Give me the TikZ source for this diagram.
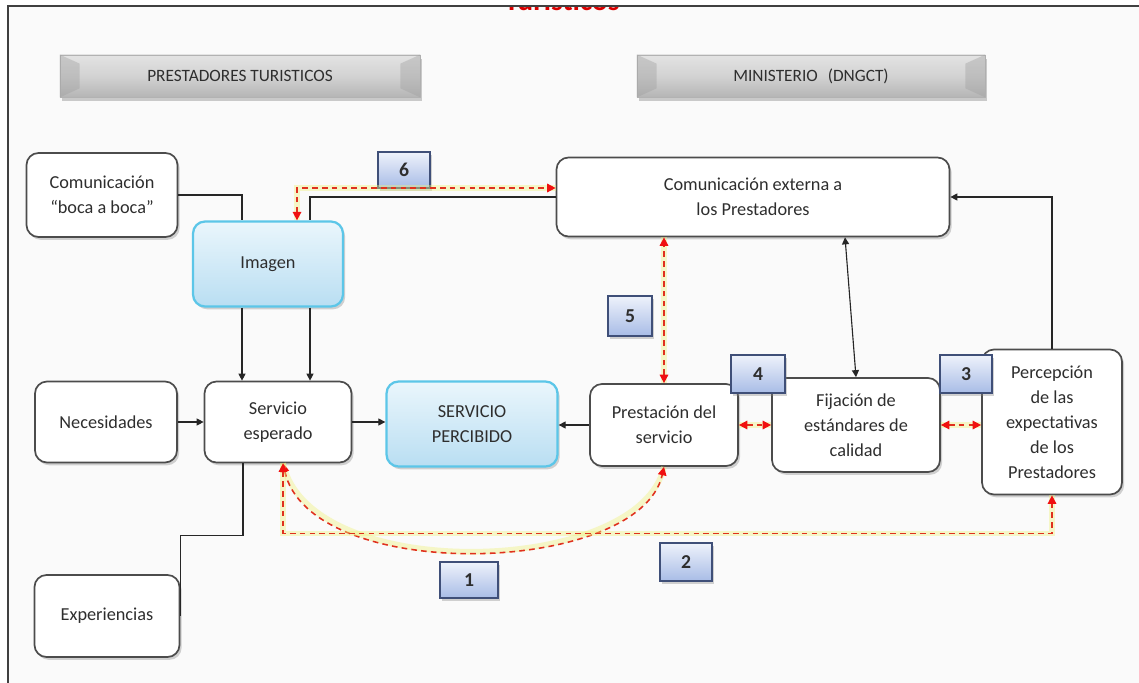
\documentclass[tikz,border=0pt]{standalone}
\usepackage{fontspec}
\setmainfont{Carlito}
\usetikzlibrary{arrows.meta,shadows,calc}
\definecolor{txt}{HTML}{2E2E2E}
\definecolor{bgc}{HTML}{FAFAFA}
\definecolor{cyanB}{HTML}{5CC6E8}
\definecolor{blueT}{HTML}{EAF6FC}
\definecolor{blueB}{HTML}{B9DEF2}
\definecolor{badgeB}{HTML}{3F4F78}
\definecolor{badgeT}{HTML}{EEF2FB}
\definecolor{badgeM}{HTML}{A8BCE6}
\definecolor{redD}{HTML}{E0301E}
\definecolor{redA}{HTML}{F01010}
\definecolor{glow}{HTML}{EEF07A}
\tikzset{
  sz/.style 2 args={minimum width=#1*0.025cm, minimum height=#2*0.025cm},
  box/.style={draw=gray!60!black, line width=1.2pt, rounded corners=0.3cm, fill=white,
    align=center, text=txt, font=\fontsize{13}{17.8}\selectfont, inner sep=2pt,
    drop shadow={opacity=0.35, shadow xshift=1.5pt, shadow yshift=-2pt}},
  bluebox/.style={box, draw=cyanB, line width=1.6pt, top color=blueT, bottom color=blueB},
  badge/.style={draw=badgeB, line width=0.9pt, top color=badgeT, bottom color=badgeM,
    font=\fontsize{14}{16}\bfseries\selectfont, text=txt, inner sep=1pt,
    drop shadow={opacity=0.35, shadow xshift=1.5pt, shadow yshift=-2pt}},
  hdr/.style={draw=gray!60, line width=0.6pt, top color=gray!22, bottom color=gray!58,
    middle color=gray!35, font=\fontsize{12.3}{15}\selectfont, text=txt,
    drop shadow={opacity=0.4, shadow xshift=1.5pt, shadow yshift=-2.5pt}},
  blk/.style={draw=black!85, line width=0.8pt},
  blkarr/.style={blk, -{Triangle[length=5pt,width=5pt]}},
  rd/.style={draw=redD, line width=1.1pt, dash pattern=on 4pt off 3pt,
    {Triangle[length=6pt,width=6pt,color=redA]}-{Triangle[length=6pt,width=6pt,color=redA]},
    preaction={draw=glow, line width=4pt, opacity=0.4, solid, -}},
}
\begin{document}
\begin{tikzpicture}[x=0.025cm,y=-0.025cm]
\useasboundingbox (0,0) rectangle (1139,683);
\fill[white] (0,0) rectangle (1139,683);
\fill[bgc] (8,6) rectangle (1139,683);
% cropped title
\begin{scope}
\clip (8,7) rectangle (1139,40);
\node[anchor=base, text=red!85!black, font=\fontsize{21}{24}\bfseries\selectfont] (title) at (562,11) {Turísticos};
\end{scope}
\draw[gray!50!black, line width=1.2pt] (8,683) -- (8,6) -- (1139,6);

% headers
\node[hdr, sz={360}{42}] (hL) at (240,76) {PRESTADORES TURISTICOS};
\node[hdr, sz={348}{42}] (hR) at (811,76) {MINISTERIO\hspace{0.35em} (DNGCT)};
\foreach \h in {hL,hR}{
  \fill[gray!75, opacity=0.4] (\h.north west) -- ++(20,9) -- ($(\h.south west)+(20,-9)$) -- (\h.south west) -- cycle;
  \fill[gray!75, opacity=0.4] (\h.north east) -- ++(-20,9) -- ($(\h.south east)+(-20,-9)$) -- (\h.south east) -- cycle;
}

% boxes
\node[box, sz={151}{84}] (boca) at (102,195) {Comunicación\\“boca a boca”};
\node[bluebox, sz={150}{85}] (imagen) at (268,264) {Imagen};
\node[box, sz={393}{79}] (ext) at (753,197) {Comunicación externa a\\los Prestadores};
\node[box, sz={142}{81}] (nec) at (106,422) {Necesidades};
\node[box, sz={147}{81}] (esp) at (278,422) {Servicio\\esperado};
\node[bluebox, sz={171}{85}] (perc) at (472,424) {SERVICIO\\PERCIBIDO};
\node[box, sz={148}{82}] (prest) at (664,425) {Prestación del\\servicio};
\node[box, sz={168}{94}] (fij) at (856,425) {Fijación de\\estándares de\\calidad};
\node[box, sz={140}{145}] (pexp) at (1052,422) {Percepción\\de las\\expectativas\\de los\\Prestadores};
\node[box, sz={145}{82}] (exper) at (107,616) {Experiencias};

% badges
\node[badge, sz={52}{36}] (b6) at (404,170) {6};
\node[badge, sz={44}{40}] (b5) at (630,316) {5};
\node[badge, sz={54}{38}] (b4) at (758,374) {4};
\node[badge, sz={52}{38}] (b3) at (966,374) {3};
\node[badge, sz={58}{36}] (b1) at (469,580) {1};
\node[badge, sz={52}{38}] (b2) at (686,562) {2};

% black connectors
\draw[blk] (boca.east) -| ([xshift=-0.65cm]imagen.north);
\draw[blkarr] ([xshift=-0.65cm]imagen.south) -- ([xshift=-0.65cm]imagen.south |- esp.north);
\draw[blk] (ext.west) -| ([xshift=1.05cm]imagen.north);
\draw[blkarr] ([xshift=1.05cm]imagen.south) -- ([xshift=1.05cm]imagen.south |- esp.north);
\draw[blkarr] (nec.east) -- (esp.west);
\draw[blkarr] (esp.east) -- (esp.east -| perc.west);
\draw[blkarr] (prest.west) -- (prest.west -| perc.east);
\draw[blk, {Triangle[length=5pt,width=5pt]}-{Triangle[length=5pt,width=5pt]}] ([xshift=2.3cm]ext.south) -- (fij.north);
\draw[blkarr] (pexp.north) |- (ext.east);
\draw[blk] ([xshift=-0.875cm]esp.south) -- ++(0,72) -| (exper.east);

% red dashed connectors
\coordinate (e2) at ([xshift=0.125cm]esp.south);
\draw[rd] ([xshift=0.725cm]imagen.north) |- ([yshift=0.225cm]ext.west);
\draw[rd] (prest.north) -- (prest.north |- ext.south);
\draw[rd] (prest.east) -- (fij.west);
\draw[rd] (fij.east) -- (fij.east -| pexp.west);
\draw[rd] (e2) .. controls +(27,122) and +(-24,109) .. (prest.south);
\draw[rd] (e2) -- ++(0,70) -| (pexp.south);
\end{tikzpicture}
\end{document}
